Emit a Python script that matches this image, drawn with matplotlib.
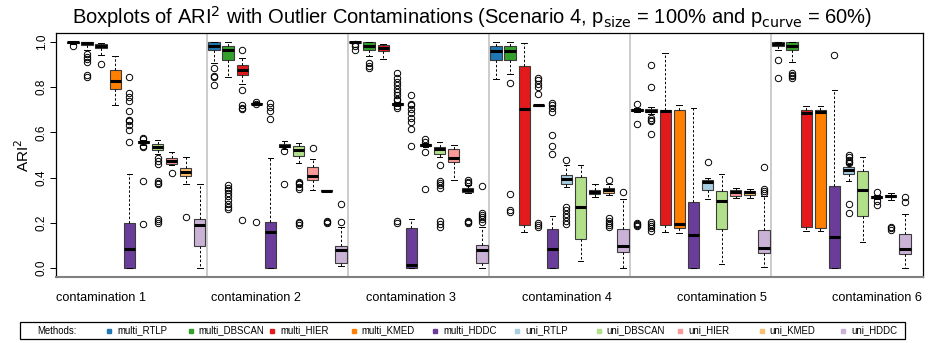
import numpy as np
import matplotlib
matplotlib.use("Agg")
from matplotlib import pyplot as plt
from matplotlib.patches import Rectangle

plt.rcParams["font.family"] = ["Liberation Sans", "DejaVu Sans"]

methods = ["multi_RTLP", "multi_DBSCAN", "multi_HIER", "multi_KMED", "multi_HDDC",
           "uni_RTLP", "uni_DBSCAN", "uni_HIER", "uni_KMED", "uni_HDDC"]
colors = ["#1F78B4", "#33A02C", "#E31A1C", "#FF7F00", "#6A3D9A",
          "#A6CEE3", "#B2DF8A", "#FB9A99", "#FDBF6F", "#CAB2D6"]
groups = ["contamination 1", "contamination 2", "contamination 3",
          "contamination 4", "contamination 5", "contamination 6"]

# five-number summaries, 10 methods x 6 contaminations
whislo = [0.99, 0.966, 0.944, 0.72, 0.0, 0.545, 0.505, 0.455, 0.372, 0.0,
          0.907, 0.845, 0.813, 0.72, 0.0, 0.525, 0.465, 0.344, 0.336, 0.007,
          0.995, 0.94, 0.927, 0.716, 0.0, 0.535, 0.49, 0.388, 0.33, 0.0,
          0.838, 0.86, 0.159, 0.715, 0.0, 0.358, 0.031, 0.312, 0.323, 0.001,
          0.69, 0.68, 0.159, 0.155, 0.0, 0.307, 0.019, 0.31, 0.31, 0.005,
          0.963, 0.912, 0.162, 0.162, 0.0, 0.385, 0.115, 0.305, 0.303, 0.0]
q1 = [0.995, 0.985, 0.972, 0.791, 0.0, 0.551, 0.521, 0.462, 0.406, 0.096,
      0.963, 0.922, 0.854, 0.724, 0.0, 0.535, 0.494, 0.391, 0.339, 0.022,
      0.998, 0.963, 0.959, 0.72, 0.0, 0.54, 0.506, 0.469, 0.336, 0.024,
      0.922, 0.922, 0.189, 0.718, 0.0, 0.373, 0.126, 0.326, 0.333, 0.071,
      0.695, 0.689, 0.189, 0.179, 0.0, 0.344, 0.171, 0.319, 0.324, 0.066,
      0.982, 0.963, 0.181, 0.179, 0.0, 0.418, 0.232, 0.311, 0.315, 0.061]
med = [1.0, 0.994, 0.981, 0.827, 0.083, 0.556, 0.535, 0.475, 0.425, 0.189,
       0.983, 0.963, 0.878, 0.727, 0.161, 0.542, 0.524, 0.409, 0.341, 0.078,
       1.0, 0.982, 0.974, 0.724, 0.012, 0.543, 0.528, 0.488, 0.345, 0.08,
       0.96, 0.96, 0.702, 0.72, 0.084, 0.392, 0.27, 0.337, 0.347, 0.096,
       0.698, 0.695, 0.695, 0.196, 0.148, 0.381, 0.296, 0.337, 0.336, 0.088,
       0.993, 0.981, 0.688, 0.69, 0.136, 0.432, 0.347, 0.314, 0.318, 0.084]
q3 = [1.0, 1.0, 0.99, 0.878, 0.2, 0.56, 0.547, 0.488, 0.444, 0.217,
      1.0, 0.984, 0.898, 0.73, 0.204, 0.55, 0.538, 0.447, 0.343, 0.096,
      1.0, 1.0, 0.985, 0.728, 0.179, 0.547, 0.535, 0.528, 0.356, 0.1,
      0.981, 0.981, 0.894, 0.723, 0.174, 0.41, 0.403, 0.347, 0.356, 0.174,
      0.702, 0.704, 0.698, 0.698, 0.292, 0.388, 0.341, 0.344, 0.341, 0.17,
      1.0, 1.0, 0.698, 0.701, 0.361, 0.447, 0.429, 0.318, 0.322, 0.152]
whishi = [1.0, 1.0, 0.997, 0.937, 0.418, 0.566, 0.568, 0.513, 0.491, 0.372,
          1.0, 1.0, 0.93, 0.733, 0.487, 0.56, 0.554, 0.484, 0.346, 0.181,
          1.0, 1.0, 0.993, 0.735, 0.215, 0.552, 0.557, 0.546, 0.365, 0.18,
          1.0, 1.0, 0.996, 0.727, 0.229, 0.454, 0.454, 0.372, 0.37, 0.307,
          0.71, 0.712, 0.953, 0.72, 0.708, 0.4, 0.418, 0.356, 0.348, 0.32,
          1.0, 1.0, 0.716, 0.716, 0.789, 0.46, 0.491, 0.325, 0.332, 0.241]
outliers = [
    # contamination 1
    [0.982], [0.946, 0.934, 0.925, 0.912, 0.853, 0.845], [0.904], [],
    [0.844, 0.774, 0.757, 0.739, 0.693, 0.657, 0.65, 0.632, 0.612, 0.558],
    [0.575, 0.57, 0.54, 0.535, 0.385, 0.193],
    [0.488, 0.473, 0.459, 0.385, 0.378, 0.37, 0.215, 0.207, 0.2], [0.42], [0.226], [],
    # contamination 2
    [0.887, 0.85, 0.845, 0.81],
    [0.365, 0.355, 0.345, 0.33, 0.32, 0.3, 0.285, 0.27, 0.26],
    [0.963, 0.786, 0.72, 0.71, 0.705, 0.211], [0.735, 0.725, 0.205],
    [0.73, 0.712, 0.695, 0.661], [0.518, 0.37],
    [0.38, 0.375, 0.37, 0.36, 0.35, 0.205, 0.198, 0.19], [0.533],
    [0.208, 0.205, 0.2], [0.203, 0.282],
    # contamination 3
    [0.99, 0.982, 0.966], [0.905, 0.895, 0.885], [],
    [0.863, 0.842, 0.823, 0.808, 0.794, 0.779, 0.764, 0.75, 0.745, 0.716, 0.71, 0.208, 0.2],
    [0.764, 0.727, 0.72, 0.705, 0.686, 0.665, 0.646, 0.617, 0.538],
    [0.57, 0.557, 0.515, 0.351],
    [0.456, 0.385, 0.375, 0.365, 0.355, 0.21, 0.195, 0.18], [],
    [0.39, 0.38, 0.375, 0.21, 0.205, 0.2],
    [0.363, 0.242, 0.235, 0.225, 0.215, 0.205],
    # contamination 4
    [], [0.819, 0.329, 0.255, 0.248], [],
    [0.842, 0.83, 0.815, 0.8, 0.772, 0.2, 0.19, 0.18],
    [0.73, 0.72, 0.71, 0.69, 0.588, 0.538, 0.506],
    [0.476, 0.27, 0.255, 0.24, 0.225, 0.21, 0.195], [], [],
    [0.388, 0.22, 0.21, 0.2, 0.19, 0.18], [0.336],
    # contamination 5
    [0.724, 0.639, 0.2, 0.195, 0.19, 0.185],
    [0.897, 0.801, 0.662, 0.655, 0.651, 0.592, 0.205, 0.195, 0.185, 0.175, 0.165],
    [], [], [], [0.469], [], [], [], [0.447, 0.35, 0.34, 0.33],
    # contamination 6
    [0.922, 0.841], [0.862, 0.855, 0.848, 0.84], [], [], [0.941],
    [0.5, 0.49, 0.48, 0.47, 0.465, 0.282, 0.243], [],
    [0.336, 0.296, 0.277], [0.182, 0.176, 0.17], [0.314, 0.292],
]

W, H = 941, 343
fig = plt.figure(figsize=(W / 100, H / 100), dpi=100)
ax = fig.add_axes([56 / W, 1 - 277 / H, (923 - 56) / W, (277 - 33) / H])

n = len(med)
pos = np.arange(1, n + 1)
stats = [dict(whislo=whislo[i], q1=q1[i], med=med[i], q3=q3[i], whishi=whishi[i],
              fliers=outliers[i]) for i in range(n)]

for gi in range(1, len(groups)):
    ax.axvline(gi * 10 + 0.5, color="#c8c8c8", lw=1.3, zorder=0)

bp = ax.bxp(stats, positions=pos, widths=0.8, patch_artist=True, capwidths=0.4,
            boxprops=dict(edgecolor="#3c3c3c", linewidth=0.8),
            medianprops=dict(color="black", linewidth=2.2, solid_capstyle="butt"),
            whiskerprops=dict(color="black", linewidth=0.7, linestyle=(0, (2.5, 2))),
            capprops=dict(color="black", linewidth=0.7),
            flierprops=dict(marker="o", markerfacecolor="none", markeredgecolor="black",
                            markersize=4.6, markeredgewidth=0.7))
for i, box in enumerate(bp["boxes"]):
    box.set_facecolor(colors[i % 10])

ax.set_xlim(-0.2, 61.28)
ax.set_ylim(-0.04, 1.04)
ax.set_xticks([])
ax.set_yticks(np.arange(0, 1.01, 0.2))
ax.set_yticklabels(["%.1f" % v for v in np.arange(0, 1.01, 0.2)], rotation=90,
                   va="center", fontsize=8.5)
ax.tick_params(axis="y", length=4, width=0.7, pad=2)
for s in ["top", "right", "left"]:
    ax.spines[s].set_linewidth(0.9)
ax.spines["bottom"].set_color("#808080")
ax.spines["bottom"].set_linewidth(1.5)
ax.set_ylabel("ARI$^2$", fontsize=11, labelpad=3)

for gi, g in enumerate(groups):
    ax.text(3 + 11 * gi, -0.135, g, ha="center", va="center", fontsize=9.2)

fig.text(472 / W, 1 - 17 / H,
         r"Boxplots of ARI$^2$ with Outlier Contaminations (Scenario 4, "
         r"p$_{\mathrm{size}}$ = 100% and p$_{\mathrm{curve}}$ = 60%)",
         ha="center", va="center", fontsize=14.5)

# legend strip
fig.patches.append(Rectangle((20 / W, 1 - 339 / H), (905 - 20) / W, 17 / H,
                             transform=fig.transFigure, fill=False,
                             edgecolor="black", lw=0.9))
ly = 1 - 330.5 / H
fig.text(37 / W, ly, "Methods:", ha="left", va="center", fontsize=6.9)
for i, (m, c) in enumerate(zip(methods, colors)):
    x0 = 109 + i * 81.6
    fig.lines.append(plt.Line2D([x0 / W], [ly], marker="s", markersize=2.6, color=c,
                                transform=fig.transFigure))
    fig.text((x0 + 8) / W, ly, m, ha="left", va="center", fontsize=6.9)

fig.savefig("out.png", dpi=100)
